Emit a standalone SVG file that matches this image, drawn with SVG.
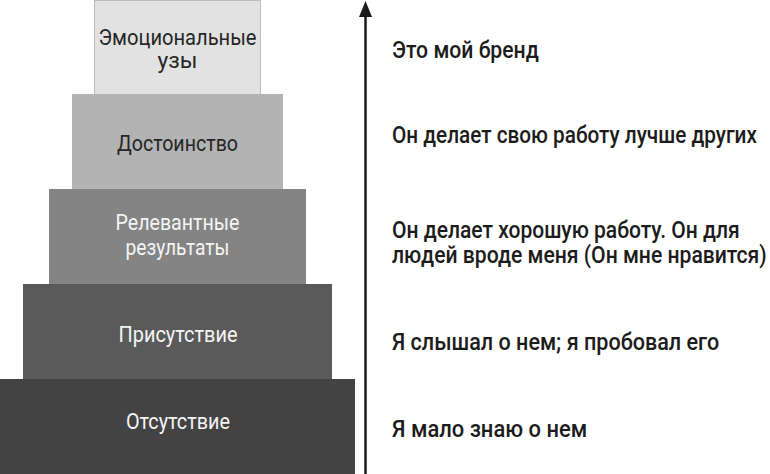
<svg xmlns="http://www.w3.org/2000/svg" width="770" height="474" viewBox="0 0 770 474">
  <style>
    .lbl { font-family: Roboto, "Liberation Sans", sans-serif; font-size: 22px; text-anchor: middle; }
    .dark { fill: #262626; }
    .light { fill: #f4f4f4; }
    .side { font-family: Roboto, "Liberation Sans", sans-serif; font-size: 23px; font-weight: 500; fill: #1c1c1c; }
  </style>
  <defs>
    <marker id="head" markerUnits="userSpaceOnUse" markerWidth="16" markerHeight="14" refX="7" refY="7" orient="auto">
      <path d="M0,0.5 L16,7 L0,13.5 z" fill="#1a1a1a"/>
    </marker>
  </defs>
  <rect x="0" y="0" width="770" height="474" fill="#ffffff"/>

  <g id="node-emotional">
    <rect x="94.5" y="0.5" width="166" height="94" fill="#e2e2e2" stroke="#bdbdbd" stroke-width="1"/>
    <text class="lbl dark" x="177.5" y="45" textLength="158" lengthAdjust="spacingAndGlyphs">Эмоциональные</text>
    <text class="lbl dark" x="177.5" y="68" textLength="40" lengthAdjust="spacingAndGlyphs">узы</text>
  </g>
  <g id="node-dignity">
    <rect x="72" y="94" width="211" height="95" fill="#b3b3b3"/>
    <text class="lbl dark" x="177.5" y="151" textLength="121" lengthAdjust="spacingAndGlyphs">Достоинство</text>
  </g>
  <g id="node-relevant">
    <rect x="49" y="189" width="257" height="95" fill="#848484"/>
    <text class="lbl light" x="177.5" y="230" textLength="124" lengthAdjust="spacingAndGlyphs">Релевантные</text>
    <text class="lbl light" x="177.5" y="255" textLength="104" lengthAdjust="spacingAndGlyphs">результаты</text>
  </g>
  <g id="node-presence">
    <rect x="23" y="284" width="309" height="95" fill="#5a5a5a"/>
    <text class="lbl light" x="178" y="342" textLength="119" lengthAdjust="spacingAndGlyphs">Присутствие</text>
  </g>
  <g id="node-absence">
    <rect x="0" y="379" width="355" height="95" fill="#434343"/>
    <text class="lbl light" x="178" y="429" textLength="104" lengthAdjust="spacingAndGlyphs">Отсутствие</text>
  </g>

  <g id="connectors">
    <line x1="365.5" y1="474" x2="365.5" y2="10" stroke="#1a1a1a" stroke-width="2.5" marker-end="url(#head)"/>
  </g>

  <g id="side-labels" transform="translate(392,0) scale(0.82,1)">
    <text class="side" x="0" y="58" textLength="179" lengthAdjust="spacingAndGlyphs">Это мой бренд</text>
    <text class="side" x="0" y="143" textLength="445" lengthAdjust="spacingAndGlyphs">Он делает свою работу лучше других</text>
    <text class="side" x="0" y="238" textLength="424" lengthAdjust="spacingAndGlyphs">Он делает хорошую работу. Он для</text>
    <text class="side" x="0" y="263" textLength="457" lengthAdjust="spacingAndGlyphs">людей вроде меня (Он мне нравится)</text>
    <text class="side" x="0" y="350" textLength="399" lengthAdjust="spacingAndGlyphs">Я слышал о нем; я пробовал его</text>
    <text class="side" x="0" y="437" textLength="238" lengthAdjust="spacingAndGlyphs">Я мало знаю о нем</text>
  </g>
</svg>
